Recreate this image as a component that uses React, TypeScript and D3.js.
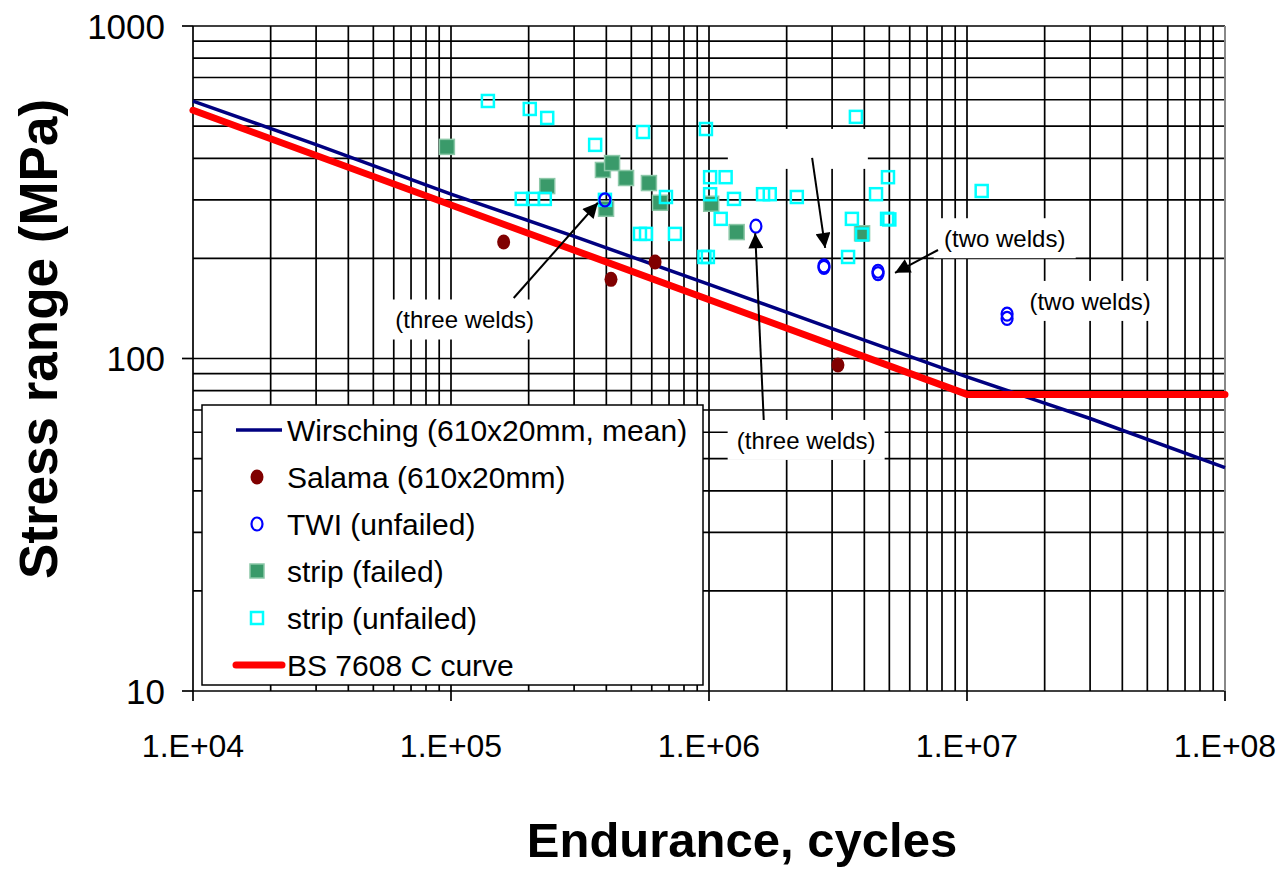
import * as d3 from "d3";

// axis ticks
const xDecades = [1e4, 1e5, 1e6, 1e7, 1e8];
const xTickLabels = ["1.E+04", "1.E+05", "1.E+06", "1.E+07", "1.E+08"];
const yDecades = [10, 100, 1000];
const yTickLabels = ["10", "100", "1000"];

// Wirsching mean curve (610x20mm)
const wirschingN = [1e4, 3e4, 1e5, 3e5, 1e6, 3e6, 1e7, 3e7, 1e8];
const wirschingS = [594, 440, 312, 233, 167, 123, 88, 66, 47];

// BS 7608 class C design curve
const bsN = [1e4, 1e7, 1e8];
const bsS = [558, 78, 78];

// Salama (610x20mm)
const salamaN = [1.6e5, 4.17e5, 6.18e5, 3.16e6];
const salamaS = [224, 173, 195, 95.6];

// TWI (unfailed)
const twiN = [3.95e5, 1.52e6, 2.79e6, 2.79e6, 4.52e6, 4.52e6, 1.43e7, 1.43e7];
const twiS = [300, 250, 188, 190, 183, 180, 136, 132];

// strip (failed)
const stripFailedN = [9.64e4, 2.36e5, 3.99e5, 3.88e5, 4.21e5, 4.77e5, 5.85e5, 6.46e5, 1.02e6, 1.28e6, 3.92e6];
const stripFailedS = [433, 330, 282, 369, 387, 349, 337, 294, 292, 240, 238];

// strip (unfailed)
const stripUnfailedN = [
  1.39e5, 2.02e5, 2.36e5, 3.62e5, 5.55e5, 9.73e5, 1.88e5, 2.08e5, 2.31e5, 3.95e5,
  5.4e5, 5.7e5, 6.81e5, 7.38e5, 1.01e6, 1.01e6, 1.16e6, 1.25e6, 1.11e6, 9.6e5,
  9.9e5, 1.62e6, 1.72e6, 2.19e6, 3.71e6, 4.44e6, 4.94e6, 3.58e6, 4.9e6, 5.0e6,
  3.46e6, 3.92e6, 1.14e7,
];
const stripUnfailedS = [
  595, 563, 529, 439, 480, 490, 302, 302, 302, 300,
  237, 237, 306, 237, 351, 312, 351, 302, 263, 202,
  202, 312, 312, 306, 533, 312, 351, 263, 263, 262,
  202, 236, 319,
];

const legendLabels = [
  "Wirsching (610x20mm, mean)",
  "Salama (610x20mm)",
  "TWI (unfailed)",
  "strip (failed)",
  "strip (unfailed)",
  "BS 7608 C curve",
];

// annotations: label centre and arrow (from -> to), in data units
const noteText = ["(three welds)", "(three welds)", "", "(two welds)", "(two welds)"];
const noteN = [1.13e5, 2.38e6, 2.21e6, 1.4e7, 3.0e7];
const noteS = [131, 56.9, 427, 230, 149];
const noteW = [160, 157, 140, 142, 138];
const arrowFromN = [1.75e5, 1.63e6, 2.51e6, 7.72e6];
const arrowFromS = [152, 65.3, 401, 212];
const arrowToN = [3.71e5, 1.51e6, 2.82e6, 5.26e6];
const arrowToS = [294, 238, 215, 181];

const W = 1288;
const H = 869;
const FONT = "Arial, 'Liberation Sans', sans-serif";

export default function App() {
  const x = d3.scaleLog().domain([1e4, 1e8]).range([193, 1225]);
  const y = d3.scaleLog().domain([10, 1000]).range([691, 26]);

  const xGrid = x.ticks();
  const yGrid = y.ticks();

  const line = d3
    .line<[number, number]>()
    .x((d) => x(d[0]))
    .y((d) => y(d[1]));

  const wirsching = wirschingN.map((n, i) => [n, wirschingS[i]] as [number, number]);
  const bs = bsN.map((n, i) => [n, bsS[i]] as [number, number]);

  const legX = 202;
  const legY = 405;
  const rowY = (i: number) => 430 + i * 47;

  return (
    <svg width={W} height={H} style={{ position: "absolute", left: 0, top: 0 }} fontFamily={FONT}>
      <defs>
        <marker id="arr" viewBox="0 0 10 10" refX="10" refY="5" markerWidth="19" markerHeight="15"
          markerUnits="userSpaceOnUse" orient="auto">
          <path d="M0,0 L10,5 L0,10 z" fill="#000" />
        </marker>
      </defs>
      <rect width={W} height={H} fill="#fff" />

      {/* grid */}
      <g stroke="#000" strokeWidth={1.7}>
        {xGrid.map((t, i) => (
          <line key={"gx" + i} x1={x(t)} x2={x(t)} y1={26} y2={691} />
        ))}
        {yGrid.map((t, i) => (
          <line key={"gy" + i} x1={193} x2={1225} y1={y(t)} y2={y(t)} />
        ))}
        {xDecades.map((t, i) => (
          <line key={"tx" + i} x1={x(t)} x2={x(t)} y1={691} y2={701} />
        ))}
        {yDecades.map((t, i) => (
          <line key={"ty" + i} x1={182} x2={193} y1={y(t)} y2={y(t)} />
        ))}
      </g>
      <line x1={1225} x2={1225} y1={26} y2={691} stroke="#888" strokeWidth={2} />

      {/* tick labels */}
      {yDecades.map((t, i) => (
        <text key={"yl" + i} x={165} y={y(t)} dy="0.36em" textAnchor="end" fontSize={35}>
          {yTickLabels[i]}
        </text>
      ))}
      {xDecades.map((t, i) => (
        <text key={"xl" + i} x={x(t)} y={757} textAnchor="middle" fontSize={32}>
          {xTickLabels[i]}
        </text>
      ))}

      {/* axis titles */}
      <text x={742} y={857} textAnchor="middle" fontSize={49} fontWeight="bold">
        Endurance, cycles
      </text>
      <text transform="translate(57,339) rotate(-90)" textAnchor="middle" fontSize={53} fontWeight="bold">
        Stress range (MPa)
      </text>

      {/* curves */}
      <path d={line(wirsching) ?? ""} fill="none" stroke="#000080" strokeWidth={3.5} />
      <path d={line(bs) ?? ""} fill="none" stroke="#ff0000" strokeWidth={7} strokeLinecap="round" strokeLinejoin="round" />

      {/* points */}
      {salamaN.map((n, i) => (
        <ellipse key={"sa" + i} cx={x(n)} cy={y(salamaS[i])} rx={6.5} ry={7.5} fill="#800000" />
      ))}
      {stripFailedN.map((n, i) => (
        <rect key={"sf" + i} x={x(n) - 7.5} y={y(stripFailedS[i]) - 7.5} width={15} height={15}
          fill="#3a9a6a" stroke="#8cc8a8" strokeWidth={1.5} />
      ))}
      {stripUnfailedN.map((n, i) => (
        <rect key={"su" + i} x={x(n) - 6} y={y(stripUnfailedS[i]) - 6} width={12} height={12}
          fill="none" stroke="#00ffff" strokeWidth={2.5} />
      ))}
      {twiN.map((n, i) => (
        <ellipse key={"tw" + i} cx={x(n)} cy={y(twiS[i])} rx={5.5} ry={6.5} fill="none" stroke="#0000ff" strokeWidth={2.2} />
      ))}

      {/* annotations */}
      {noteN.map((n, i) => (
        <g key={"nt" + i}>
          <rect x={x(n) - noteW[i] / 2} y={y(noteS[i]) - 20} width={noteW[i]} height={40} fill="#fff" />
          <text x={x(n)} y={y(noteS[i])} dy="0.36em" textAnchor="middle" fontSize={24}>
            {noteText[i]}
          </text>
        </g>
      ))}
      {arrowFromN.map((n, i) => (
        <line key={"ar" + i} x1={x(n)} y1={y(arrowFromS[i])} x2={x(arrowToN[i])} y2={y(arrowToS[i])}
          stroke="#000" strokeWidth={2} markerEnd="url(#arr)" />
      ))}

      {/* legend */}
      <rect x={legX} y={legY} width={501} height={280} fill="#fff" stroke="#000" strokeWidth={1.5} />
      <line x1={236} x2={282} y1={rowY(0)} y2={rowY(0)} stroke="#000080" strokeWidth={3.5} />
      <ellipse cx={257} cy={rowY(1)} rx={6.5} ry={7.5} fill="#800000" />
      <ellipse cx={257} cy={rowY(2)} rx={5.5} ry={6.5} fill="none" stroke="#0000ff" strokeWidth={2.2} />
      <rect x={250} y={rowY(3) - 7} width={14} height={14} fill="#3a9a6a" stroke="#8cc8a8" strokeWidth={1.5} />
      <rect x={251} y={rowY(4) - 6} width={12} height={12} fill="none" stroke="#00ffff" strokeWidth={2.5} />
      <line x1={236} x2={282} y1={rowY(5)} y2={rowY(5)} stroke="#ff0000" strokeWidth={7} strokeLinecap="round" />
      {legendLabels.map((l, i) => (
        <text key={"lg" + i} x={287} y={rowY(i)} dy="0.36em" fontSize={30}>
          {l}
        </text>
      ))}
    </svg>
  );
}
